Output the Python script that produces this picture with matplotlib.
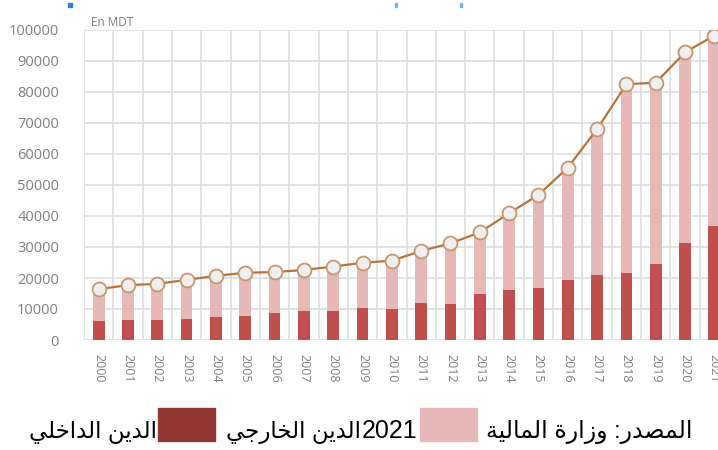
import numpy as np
from matplotlib import pyplot as plt
from matplotlib.patches import Rectangle

# data (MDT)
years = [str(y) for y in range(2000, 2022)]
total_debt = [16400, 17700, 18100, 19400, 20700, 21700, 21900, 22600, 23700, 24900,
              25600, 28700, 31200, 34700, 40900, 46800, 55600, 68000, 82500, 83000,
              92800, 98200]
domestic_debt = [6200, 6500, 6500, 6700, 7500, 7800, 8600, 9200, 9200, 10200,
                 9900, 12000, 11500, 14800, 16100, 16900, 19400, 21000, 21700, 24500,
                 31400, 36900]
y_ticks = list(range(0, 100001, 10000))

unit_label = 'En MDT'
source_txt = 'المصدر: وزارة المالية'
year_txt = '2021'
external_txt = 'الدين الخارجي'
domestic_txt = 'الدين الداخلي'

# arabic presentation forms: isolated, final, initial, medial
FORMS = {
    'ا': ('\uFE8D', '\uFE8E', None, None),
    'د': ('\uFEA9', '\uFEAA', None, None),
    'ر': ('\uFEAD', '\uFEAE', None, None),
    'ز': ('\uFEAF', '\uFEB0', None, None),
    'و': ('\uFEED', '\uFEEE', None, None),
    'ة': ('\uFE93', '\uFE94', None, None),
    'ل': ('\uFEDD', '\uFEDE', '\uFEDF', '\uFEE0'),
    'م': ('\uFEE1', '\uFEE2', '\uFEE3', '\uFEE4'),
    'ص': ('\uFEB9', '\uFEBA', '\uFEBB', '\uFEBC'),
    'ي': ('\uFEF1', '\uFEF2', '\uFEF3', '\uFEF4'),
    'ن': ('\uFEE5', '\uFEE6', '\uFEE7', '\uFEE8'),
    'خ': ('\uFEA5', '\uFEA6', '\uFEA7', '\uFEA8'),
    'ج': ('\uFE9D', '\uFE9E', '\uFE9F', '\uFEA0'),
}


def shape(s):
    out = []
    for i, c in enumerate(s):
        if c not in FORMS:
            out.append(c)
            continue
        iso, fin, ini, med = FORMS[c]
        prev = s[i-1] if i > 0 else ''
        nxt = s[i+1] if i + 1 < len(s) else ''
        jp = prev in FORMS and FORMS[prev][2] is not None
        jn = nxt in FORMS and ini is not None
        if jp and jn:
            out.append(med)
        elif jp:
            out.append(fin)
        elif jn:
            out.append(ini)
        else:
            out.append(iso)
    return ''.join(reversed(out))


W, H = 718, 450
fig = plt.figure(figsize=(W/100, H/100), dpi=100)
ax = fig.add_axes([84/W, 1-340/H, 645/W, 310/H])

x = np.arange(len(years))
ax.bar(x, total_debt, width=0.4, color='#e6b9b8', zorder=2)
ax.bar(x, domestic_debt, width=0.4, color='#c0504d', zorder=3)
ax.plot(x, total_debt, color='#b8733a', lw=1.6, marker='o', ms=10,
        mfc='#efefef', mec='#c9956a', mew=1.3, zorder=4)

ax.set_xlim(-0.5, len(years) - 0.5)
ax.set_ylim(0, 100000)
ax.set_yticks(y_ticks)
ax.set_yticklabels([str(v) for v in y_ticks])
ax.set_xticks(x)
ax.set_xticklabels(years, rotation=270)
ax.set_xticks(np.arange(len(years) + 1) - 0.5, minor=True)
ax.grid(axis='y', which='major', color='#dedede', lw=1.2, zorder=0)
ax.grid(axis='x', which='minor', color='#dedede', lw=1.2, zorder=0)
for sp in ax.spines.values():
    sp.set_visible(False)
ax.tick_params(axis='both', which='both', length=0)
ax.tick_params(axis='y', pad=18, labelsize=10.5, labelcolor='#808080')
ax.tick_params(axis='x', pad=10, labelsize=9, labelcolor='#808080')
for lab in ax.get_xticklabels() + ax.get_yticklabels():
    lab.set_family('Open Sans')

fig.text(91/W, 1-26/H, unit_label, fontsize=8.5, color='#7a7a7a',
         family='Open Sans', va='baseline')

# legend / source line at the bottom
base = 1 - 438/H
fam = ['Liberation Sans', 'DejaVu Sans']
fig.text(157/W, base, shape(domestic_txt), fontsize=16.5, family=fam,
         ha='right', va='baseline')
fig.patches.append(Rectangle((158/W, 1-441/H), 57/W, 33/H, color='#943634',
                             transform=fig.transFigure, figure=fig))
fig.text(361/W, base, shape(external_txt), fontsize=16.5, family=fam,
         ha='right', va='baseline')
fig.text(362/W, base, year_txt, fontsize=18, family=fam,
         ha='left', va='baseline')
fig.patches.append(Rectangle((420/W, 1-441/H), 57/W, 33/H, color='#e6b8b7',
                             transform=fig.transFigure, figure=fig))
fig.text(693/W, base, shape(source_txt), fontsize=17, family=fam,
         ha='right', va='baseline')

# little blue selection marks at the top of the screenshot
for mx, mw, col in [(68, 4, '#2f7de0'), (395, 2, '#7ab2ea'), (460, 2, '#7ab2ea')]:
    fig.patches.append(Rectangle((mx/W, 1-7/H), mw/W, 4/H, color=col,
                                 transform=fig.transFigure, figure=fig))

fig.savefig('out.png', dpi=100)
